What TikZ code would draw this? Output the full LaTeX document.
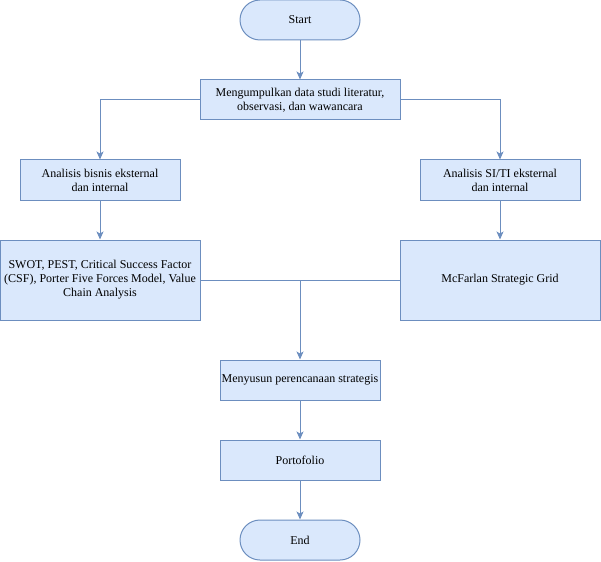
\documentclass[tikz,border=0pt]{standalone}
\usepackage{fontspec}
\setmainfont{Liberation Serif}
\usetikzlibrary{arrows.meta,calc}
\definecolor{boxfill}{HTML}{DAE8FC}
\definecolor{boxline}{HTML}{6C8EBF}
\begin{document}
\begin{tikzpicture}[x=1pt,y=-1pt,
  every node/.style={font=\fontsize{12}{14}\selectfont, align=center, inner sep=0pt},
  procbox/.style={draw=boxline, fill=boxfill, line width=1pt, rectangle},
  termbox/.style={draw=boxline, fill=boxfill, line width=1pt, rectangle, rounded corners=20pt,
    minimum width=120pt, minimum height=40pt},
  flow/.style={draw=boxline, line width=1pt, -{Stealth[length=8pt,width=7pt,inset=2pt]}},
  link/.style={draw=boxline, line width=1pt}]
\useasboundingbox (0,0) rectangle (601,561);

\node[termbox] (start) at (300,20) {Start};
\node[procbox, minimum width=200pt, minimum height=40pt] (collect) at (300,100)
  {Mengumpulkan data studi literatur,\\observasi, dan wawancara};
\node[procbox, minimum width=160pt, minimum height=40pt] (bizan) at (100,180)
  {Analisis bisnis eksternal\\dan internal};
\node[procbox, minimum width=160pt, minimum height=40pt] (itan) at (500,180)
  {Analisis SI/TI eksternal\\dan internal};
\node[procbox, minimum width=200pt, minimum height=80pt] (tools) at (100,280)
  {SWOT, PEST, Critical Success Factor\\(CSF), Porter Five Forces Model, Value\\Chain Analysis};
\node[procbox, minimum width=200pt, minimum height=80pt] (grid) at (500,280)
  {McFarlan Strategic Grid};
\node[procbox, minimum width=160pt, minimum height=40pt] (plan) at (300,380)
  {Menyusun perencanaan strategis};
\node[procbox, minimum width=160pt, minimum height=40pt] (port) at (300,460)
  {Portofolio};
\node[termbox] (end) at (300,540) {End};

\coordinate (merge) at ($(tools.east)!0.5!(grid.west)$);

\draw[flow] (start) -- (collect);
\draw[flow] (collect.west) -| (bizan.north);
\draw[flow] (collect.east) -| (itan.north);
\draw[flow] (bizan) -- (tools);
\draw[flow] (itan) -- (grid);
\draw[link] (tools.east) -- (grid.west);
\draw[flow] (merge) -- (plan.north);
\draw[flow] (plan) -- (port);
\draw[flow] (port) -- (end);
\end{tikzpicture}
\end{document}
